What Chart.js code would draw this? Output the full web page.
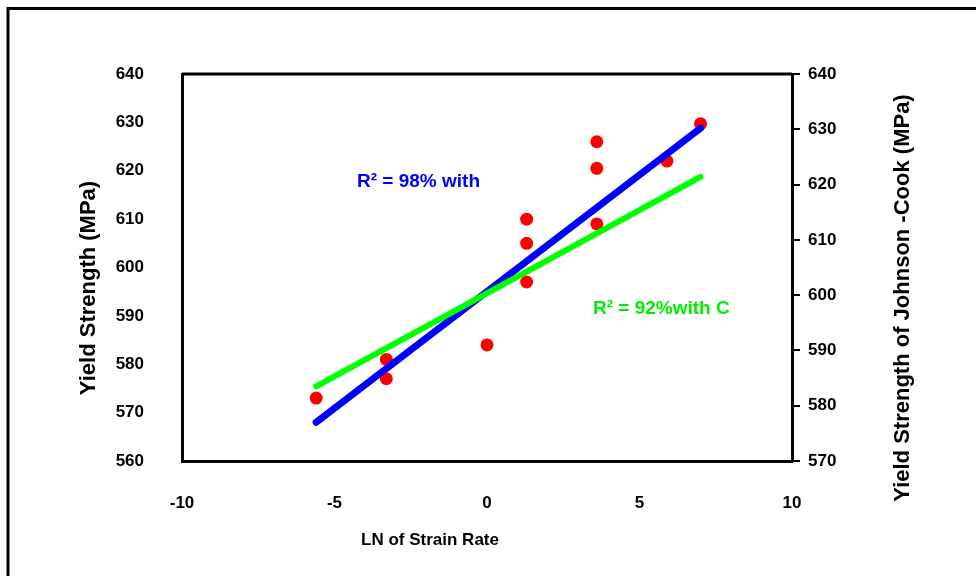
<!DOCTYPE html>
<html>
<head>
<meta charset="utf-8">
<script src="https://cdn.jsdelivr.net/npm/chart.js@4.4.1/dist/chart.umd.min.js"></script>
<style>
  body { margin: 0; background: #fff; }
  canvas { display: block; }
</style>
</head>
<body>
<canvas id="yieldChart" width="976" height="576"></canvas>
<script>
// yield strength vs ln(strain rate), with two linear fits
const strainLn = [-5.6, -3.3, -3.3, 0, 1.3, 1.3, 1.3, 3.6, 3.6, 3.6, 5.9, 7.0];
const yieldMeasured = [573, 581, 577, 584, 610, 605, 597, 626, 620.5, 609, 622, 629.7];
const fitLn = [-5.6, 7.0];
const fitMeasured = [568, 628.8];
const fitJohnsonCook = [583.5, 621.4];
const leftTicks = [560, 640];
const rightTicks = [570, 640];
const xTicks = [-10, 10];

const FONT = "'Liberation Sans', Arial, sans-serif";

function pairs(xs, ys) {
    return xs.map((x, i) => ({ x: x, y: ys[i] }));
}

// outer frame, box round the plot, axis titles and the R² notes
const decorations = {
    id: "decorations",
    afterDraw(chart) {
        const ctx = chart.ctx;
        const a = chart.chartArea;
        ctx.save();
        ctx.strokeStyle = "#000";
        ctx.lineWidth = 3;
        ctx.beginPath();
        ctx.moveTo(7, 8.5);
        ctx.lineTo(976, 8.5);
        ctx.moveTo(8, 7);
        ctx.lineTo(8, 576);
        ctx.stroke();
        ctx.beginPath();
        ctx.moveTo(a.left, a.top);
        ctx.lineTo(a.right, a.top);
        ctx.stroke();

        ctx.fillStyle = "#000";
        ctx.textBaseline = "middle";
        ctx.textAlign = "center";
        ctx.font = "bold 17px " + FONT;
        ctx.fillText("LN of Strain Rate", 430, 540);

        ctx.font = "bold 22px " + FONT;
        ctx.save();
        ctx.translate(89, 288);
        ctx.rotate(-Math.PI / 2);
        ctx.fillText("Yield Strength (MPa)", 0, 0);
        ctx.restore();

        ctx.save();
        ctx.translate(903, 298);
        ctx.rotate(-Math.PI / 2);
        ctx.fillText("Yield Strength of Johnson -Cook (MPa)", 0, 0);
        ctx.restore();

        ctx.textAlign = "left";
        ctx.font = "bold 19px " + FONT;
        ctx.fillStyle = "#0000ff";
        ctx.fillText("R² = 98% with", 357, 182);
        ctx.fillStyle = "#00ee00";
        ctx.fillText("R² = 92%with C", 593, 309);
        ctx.restore();
    }
};

new Chart("yieldChart", {
    type: "scatter",
    data: {
        datasets: [
            {
                type: "line",
                label: "Johnson-Cook fit",
                data: pairs(fitLn, fitJohnsonCook),
                yAxisID: "y2",
                borderColor: "#00ff00",
                borderWidth: 6,
                borderCapStyle: "round",
                pointRadius: 0,
                order: 1
            },
            {
                type: "line",
                label: "Linear fit",
                data: pairs(fitLn, fitMeasured),
                yAxisID: "y",
                borderColor: "#0000ff",
                borderWidth: 7,
                borderCapStyle: "round",
                pointRadius: 0,
                order: 2
            },
            {
                label: "Measured",
                data: pairs(strainLn, yieldMeasured),
                yAxisID: "y",
                backgroundColor: "#ff0000",
                borderWidth: 0,
                pointRadius: 6.5,
                order: 3
            }
        ]
    },
    options: {
        responsive: false,
        animation: false,
        events: [],
        layout: { padding: { top: 74, left: 0, right: 0, bottom: 0 } },
        plugins: {
            legend: { display: false },
            tooltip: { enabled: false }
        },
        scales: {
            x: {
                type: "linear",
                min: xTicks[0],
                max: xTicks[1],
                afterFit: s => { s.height = 115; },
                grid: { display: false },
                border: { display: true, color: "#000", width: 3 },
                ticks: { stepSize: 5, padding: 24, color: "#000", font: { family: FONT, size: 17, weight: "bold" } }
            },
            y: {
                position: "left",
                min: leftTicks[0],
                max: leftTicks[1],
                afterFit: s => { s.width = 182; },
                grid: { display: false },
                border: { display: true, color: "#000", width: 3 },
                ticks: { stepSize: 10, padding: 30, color: "#000", font: { family: FONT, size: 17, weight: "bold" } }
            },
            y2: {
                position: "right",
                min: rightTicks[0],
                max: rightTicks[1],
                afterFit: s => { s.width = 184; },
                grid: { display: true, drawOnChartArea: false, drawTicks: true, tickLength: 8, color: "#000", lineWidth: 2 },
                border: { display: true, color: "#000", width: 3 },
                ticks: { stepSize: 10, padding: 8, color: "#000", font: { family: FONT, size: 17, weight: "bold" } }
            }
        }
    },
    plugins: [decorations]
});
</script>
</body>
</html>
